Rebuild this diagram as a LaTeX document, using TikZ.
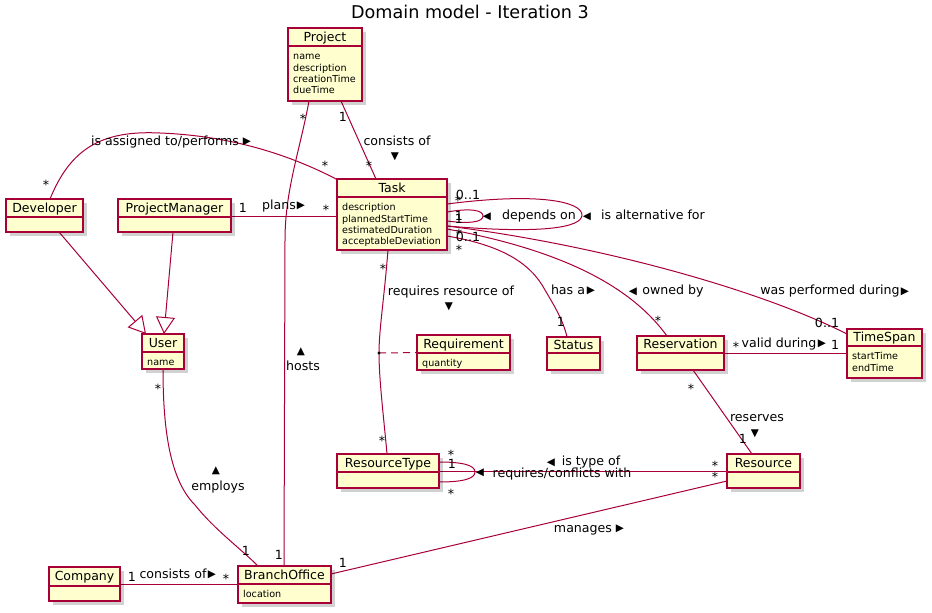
\documentclass[tikz,border=0pt]{standalone}
\usepackage{fontspec}
\setmainfont{DejaVu Sans}
\usetikzlibrary{arrows.meta}
\pgfdeclarelayer{bg}
\pgfsetlayers{bg,main}
\definecolor{umlred}{HTML}{A80036}
\definecolor{umlfill}{HTML}{FEFECE}
\tikzset{
  conn/.style={draw=umlred, line width=1pt},
  gen/.style={conn, -{Triangle[length=17pt,width=19pt,fill=white]}},
  clsbox/.style={draw=umlred, fill=umlfill, line width=1.5pt, inner sep=0pt, outer sep=0pt},
  clsshadow/.style={fill=black, opacity=0.18},
  clstitle/.style={font=\fontsize{12.5}{14}\selectfont, inner sep=0pt, text height=8.8pt, text depth=0pt},
  attr/.style={font=\fontsize{9.6}{11}\selectfont, inner sep=0pt, anchor=base west},
  lbl/.style={font=\fontsize{12.6}{14}\selectfont, inner sep=0pt, text height=9pt, text depth=0pt},
  star/.style={lbl, text height=15pt},
  tri/.style={font=\fontsize{10.5}{12}\selectfont, inner sep=0pt},
  titletext/.style={font=\fontsize{17.6}{20}\selectfont, inner sep=0pt, text height=12.8pt, text depth=0pt},
}
\newcommand{\umlclass}[8]{%
  \fill[clsshadow] (#2+4,#3+4) rectangle (#4+4,#5+4);
  \node[clsbox, anchor=north west, minimum width={#4-#2}, minimum height={#5-#3}] (#1) at (#2,#3) {};
  \draw[umlred, line width=1.5pt] (#2,#6) -- (#4,#6);
  \node[clstitle] (#1-title) at ({(#2+#4)/2},{(#3+#6)/2}) {#7};
  \foreach \a [count=\i] in {#8} {\node[attr] (#1-attr-\i) at (#2+5, #6+13.8+11.3*\i-11.3) {\a};}
}
\begin{document}
\begin{tikzpicture}[x=1pt,y=-1pt]
\useasboundingbox (0,0) rectangle (932,613);
\node[titletext] (title) at (470,12) {Domain model - Iteration 3};

\umlclass{project}{288}{28}{362}{101}{46}{Project}{name,description,creationTime,dueTime}
\umlclass{task}{337}{179}{447}{250}{197}{Task}{description,plannedStartTime,estimatedDuration,acceptableDeviation}
\umlclass{developer}{6}{199}{83}{232}{217}{Developer}{}
\umlclass{pm}{118}{199}{231}{232}{217}{ProjectManager}{}
\umlclass{user}{142}{334}{184}{369}{352}{User}{name}
\umlclass{requirement}{417}{335}{510}{370}{353}{Requirement}{quantity}
\umlclass{status}{547}{337}{600}{370}{353}{Status}{}
\umlclass{reservation}{637}{336}{724}{370}{353}{Reservation}{}
\umlclass{timespan}{847}{329}{922}{378}{346}{TimeSpan}{startTime,endTime}
\umlclass{resourcetype}{337}{454}{439}{488}{472}{ResourceType}{}
\umlclass{resource}{727}{454}{800}{488}{472}{Resource}{}
\umlclass{company}{49}{567}{120}{601}{586}{Company}{}
\umlclass{branch}{238}{566}{331}{603}{584}{BranchOffice}{location}

\coordinate (rdot) at (379,353);

\begin{pgfonlayer}{bg}
% Project - Task
\draw[conn] ([shift={(53,73)}]project.north west) -- ([shift={(39,0)}]task.north west);
% Project - BranchOffice (hosts)
\draw[conn] ([shift={(21,73)}]project.north west) .. controls (300,150) and (285,190) .. (285,240) -- ([shift={(46,0)}]branch.north west);
% Developer - Task
\draw[conn] ([shift={(44,0)}]developer.north west) .. controls (70,150) and (100,130) .. (160,133) .. controls (240,136) and (300,160) .. ([shift={(1,1)}]task.north west);
% ProjectManager - Task
\draw[conn] ([shift={(113,17)}]pm.north west) -- ([shift={(0,37)}]task.north west);
% generalisations
\draw[gen] ([shift={(53,33)}]developer.north west) -- ([shift={(4,0)}]user.north west);
\draw[gen] ([shift={(55,33)}]pm.north west) -- ([shift={(22,0)}]user.north west);
% User - BranchOffice
\draw[conn] ([shift={(21,35)}]user.north west) .. controls (163,430) and (170,480) .. (195,505) .. controls (215,530) and (240,548) .. ([shift={(20,0)}]branch.north west);
% Company - BranchOffice
\draw[conn] ([shift={(71,17)}]company.north west) -- ([shift={(0,18)}]branch.north west);
% BranchOffice - Resource
\draw[conn] ([shift={(93,8)}]branch.north west) -- ([shift={(0,27)}]resource.north west);
% Task - ResourceType
\draw[conn] ([shift={(51,71)}]task.north west) .. controls (384,300) and (379,330) .. (rdot) .. controls (379,380) and (384,420) .. ([shift={(50,0)}]resourcetype.north west);
% Task - Status
\draw[conn] ([shift={(110,57)}]task.north west) .. controls (500,245) and (530,262) .. (545,290) .. controls (555,307) and (563,320) .. ([shift={(20,0)}]status.north west);
% Task - Reservation
\draw[conn] ([shift={(110,50)}]task.north west) .. controls (560,250) and (630,285) .. ([shift={(30,0)}]reservation.north west);
% Task - TimeSpan
\draw[conn] ([shift={(110,47)}]task.north west) .. controls (600,245) and (760,290) .. ([shift={(0,5)}]timespan.north west);
% Task self loops
\draw[conn] ([shift={(110,25)}]task.north west) .. controls (540,192) and (582,202) .. (582,215) .. controls (582,228) and (540,234) .. ([shift={(110,47)}]task.north west);
\draw[conn] ([shift={(110,33)}]task.north west) .. controls (470,208) and (483,210) .. (483,216) .. controls (483,222) and (470,224) .. ([shift={(110,42)}]task.north west);
% ResourceType self loop
\draw[conn] ([shift={(102,8)}]resourcetype.north west) .. controls (462,462) and (475,465) .. (475,472) .. controls (475,479) and (462,482) .. ([shift={(102,28)}]resourcetype.north west);
% ResourceType - Resource
\draw[conn] ([shift={(102,17)}]resourcetype.north west) -- ([shift={(0,17)}]resource.north west);
% Reservation - Resource
\draw[conn] ([shift={(56,34)}]reservation.north west) -- ([shift={(25,0)}]resource.north west);
% Reservation - TimeSpan
\draw[conn] ([shift={(87,17)}]reservation.north west) -- ([shift={(0,24)}]timespan.north west);
\end{pgfonlayer}

% association class
\draw[conn, dash pattern=on 7pt off 5pt] (rdot) -- (requirement.west);
\fill[black] (rdot) circle (1.6pt);

% labels: Project - Task
\node[lbl] (a1) at (343,117) {1};
\node[star] (a2) at (369,163) {*};
\node[lbl] (a3) at (397,141) {consists of};
\node[tri] (a4) at (395,157) {▼};
% hosts
\node[star] (b1) at (303,116) {*};
\node[lbl] (b2) at (279,555) {1};
\node[tri] (b3) at (301,352) {▲};
\node[lbl] (b4) at (303,366) {hosts};
% assigned
\node[star] (c1) at (46,182) {*};
\node[star] (c2) at (325,163) {*};
\node[lbl] (c3) at (165,141) {is assigned to/performs};
\node[tri] (c4) at (247,142) {▶};
% plans
\node[lbl] (d1) at (243,208) {1};
\node[lbl] (d2) at (279,205) {plans};
\node[tri] (d3) at (301,206) {▶};
\node[star] (d4) at (326,207) {*};
% employs
\node[star] (e1) at (158,386) {*};
\node[lbl] (e2) at (246,551) {1};
\node[tri] (e3) at (216,471) {▲};
\node[lbl] (e4) at (218,486) {employs};
% company
\node[lbl] (f1) at (132,577) {1};
\node[lbl] (f2) at (173,574) {consists of};
\node[tri] (f3) at (212,575) {▶};
\node[star] (f4) at (226,576) {*};
% manages
\node[lbl] (g1) at (343,563) {1};
\node[lbl] (g2) at (583,528) {manages};
\node[tri] (g3) at (620,529) {▶};
% requires resource of
\node[star] (h1) at (383,266) {*};
\node[star] (h2) at (382,438) {*};
\node[lbl] (h3) at (451,291) {requires resource of};
\node[tri] (h4) at (449,307) {▼};
% has a
\node[lbl] (i1) at (561,322) {1};
\node[lbl] (i2) at (568,290) {has a};
\node[tri] (i3) at (591,291) {▶};
% owned by
\node[tri] (j1) at (633,292) {◀};
\node[lbl] (j2) at (673,290) {owned by};
\node[star] (j3) at (658,318) {*};
% was performed during
\node[lbl] (k1) at (830,290) {was performed during};
\node[tri] (k2) at (905,292) {▶};
\node[lbl] (k3) at (827,323) {0..1};
% task loops
\node[tri] (l1) at (487,217) {◀};
\node[lbl] (l2) at (539,215) {depends on};
\node[tri] (l3) at (587,217) {◀};
\node[lbl] (l4) at (653,215) {is alternative for};
\node[lbl] (l5) at (468,195) {0..1};
\node[star] (l6) at (458,198) {*};
\node[lbl] (l7) at (459,216) {1};
\node[lbl] (l8) at (459,219) {1};
\node[star] (l9) at (459,231) {*};
\node[lbl] (l10) at (468,237) {0..1};
\node[star] (l11) at (459,247) {*};
% resource type loop
\node[star] (m1) at (451,452) {*};
\node[lbl] (m2) at (452,464) {1};
\node[star] (m3) at (451,491) {*};
\node[tri] (m4) at (480,473) {◀};
\node[lbl] (m5) at (562,473) {requires/conflicts with};
% is type of
\node[tri] (n1) at (551,463) {◀};
\node[lbl] (n2) at (591,461) {is type of};
\node[star] (n3) at (715,463) {*};
\node[star] (n4) at (715,474) {*};
% reserves
\node[star] (o1) at (691,386) {*};
\node[lbl] (o2) at (757,417) {reserves};
\node[tri] (o3) at (755,434) {▼};
\node[lbl] (o4) at (743,439) {1};
% valid during
\node[star] (p1) at (736,344) {*};
\node[lbl] (p2) at (779,343) {valid during};
\node[tri] (p3) at (822,344) {▶};
\node[lbl] (p4) at (835,345) {1};
\end{tikzpicture}
\end{document}
